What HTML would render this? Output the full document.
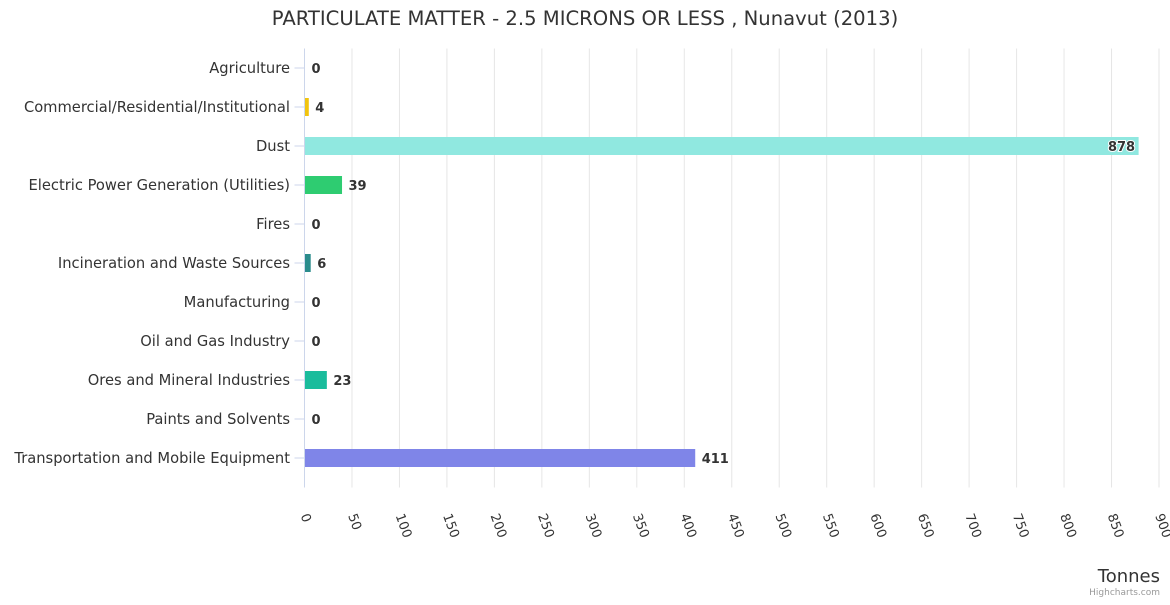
<!DOCTYPE html>
<html><head><meta charset="utf-8"><style>
body{margin:0;background:#fff;font-family:"Liberation Sans","DejaVu Sans",sans-serif;}
svg text{font-family:"DejaVu Sans","Liberation Sans",sans-serif;}
</style></head><body>
<svg id="c" width="1170" height="600">
<text x="585" y="25" text-anchor="middle" font-size="19.6" fill="#333">PARTICULATE MATTER - 2.5 MICRONS OR LESS , Nunavut (2013)</text>
<g id="grid"></g><g id="bars"></g><g id="cats"></g><g id="ticks"></g>
<text x="1160" y="582" text-anchor="end" font-size="18" fill="#333">Tonnes</text>
<text x="1160" y="595" text-anchor="end" font-size="9" fill="#999">Highcharts.com</text>
</svg>
<script>
const categories=["Agriculture","Commercial/Residential/Institutional","Dust","Electric Power Generation (Utilities)","Fires","Incineration and Waste Sources","Manufacturing","Oil and Gas Industry","Ores and Mineral Industries","Paints and Solvents","Transportation and Mobile Equipment"];
const values=[0,4,878,39,0,6,0,0,23,0,411];
const colors=["#f7a35c","#f1c40f","#90e8e0","#2ecc71","#e74c3c","#2a8c8c","#8e44ad","#34495e","#1abc9c","#e67e22","#7f85e8"];
const ticks=[0,50,100,150,200,250,300,350,400,450,500,550,600,650,700,750,800,850,900];
const NS="http://www.w3.org/2000/svg";
const x0=304.5,x1=1159,plotTop=48.5,rowH=39,xmax=900;
const X=v=>x0+(v/xmax)*(x1-x0);
const Y=i=>plotTop+rowH*i+rowH/2;
const plotBottom=plotTop+rowH*categories.length;
function mk(t,a,p){const e=document.createElementNS(NS,t);for(const k in a)e.setAttribute(k,a[k]);p.appendChild(e);return e;}
const g=document.getElementById('grid'),b=document.getElementById('bars'),c=document.getElementById('cats'),tk=document.getElementById('ticks');
ticks.forEach(t=>{
 const l=mk('line',{x1:X(t),x2:X(t),y1:plotTop,y2:plotBottom+10,stroke:t===0?'#ccd6eb':'#e6e6e6','stroke-width':1},g);
 
 
 const tx=mk('text',{x:0,y:0,'font-size':13,fill:'#333',transform:`translate(${X(t)-4},${plotBottom+38}) rotate(70)`},tk);
 tx.textContent=t;
 
 
});
categories.forEach((cat,i)=>{
 const y=Y(i);
 const tm=mk('line',{x1:x0-10,x2:x0,y1:y,y2:y,stroke:'#ccd6eb'},g);
 
 
 const t=mk('text',{x:290,y:y+5,'text-anchor':'end','font-size':14.7,fill:'#333'},c);
 t.textContent=cat;
 
 
 const w=X(values[i])-x0;
 if(values[i]>0){
  const r=mk('rect',{x:x0+0.5,y:y-9,width:w,height:18,fill:colors[i]},b);
  
  
 }
 const inside=values[i]>800;
 const lx=inside?X(values[i])-3:X(values[i])+7;
 const lt=mk('text',{x:lx,y:y+5,'text-anchor':inside?'end':'start','font-size':13,'font-weight':'bold',fill:'#333',stroke:'#fff','stroke-width':inside?2:0,'paint-order':'stroke'},b);
 lt.textContent=values[i];
 
 
});
</script>
</body></html>
